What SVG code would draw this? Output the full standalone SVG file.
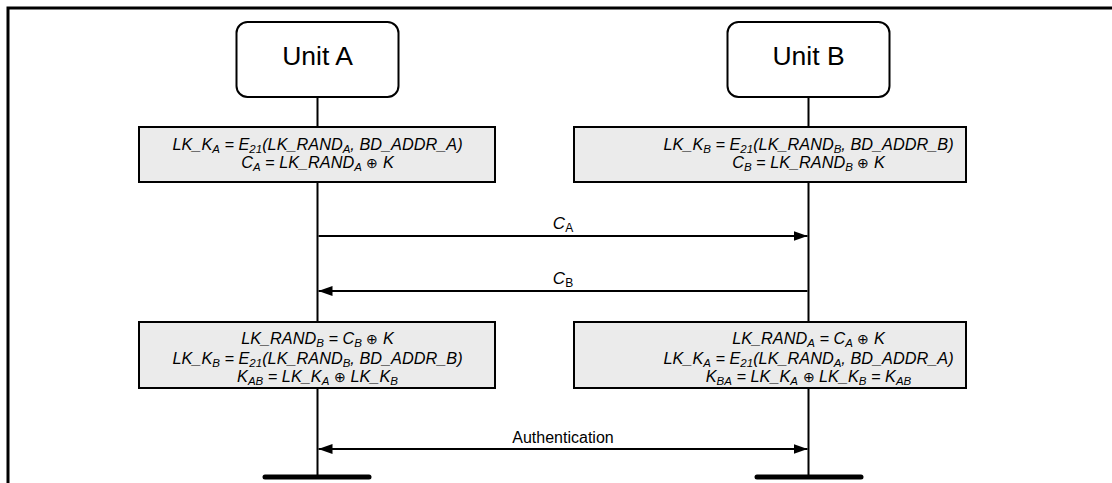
<svg xmlns="http://www.w3.org/2000/svg" width="1112" height="483" viewBox="0 0 1112 483">
<style>
.frame{fill:none;stroke:#000;stroke-width:3}
.unit{fill:#fff;stroke:#000;stroke-width:2}
.box{fill:#ebebeb;stroke:#000;stroke-width:2}
.life{stroke:#000;stroke-width:2;fill:none}
.msg{stroke:#000;stroke-width:2;fill:none}
.bar{stroke:#000;stroke-width:5;stroke-linecap:round}
.ut{font-family:"Liberation Sans",Arial,sans-serif;font-size:26.5px;text-anchor:middle;fill:#000}
.ft{font-family:"Liberation Sans",Arial,sans-serif;font-size:16.3px;font-style:italic;text-anchor:middle;fill:#000}
.s{font-size:11.5px}
.o{font-family:"DejaVu Sans",sans-serif;font-style:normal;font-weight:200;font-size:14px}
.lt{font-family:"Liberation Sans",Arial,sans-serif;font-size:16px;text-anchor:middle;fill:#000}
.ls{font-size:12px;font-style:normal}
</style>
<defs>
<marker id="ah" viewBox="0 0 14 10" refX="14" refY="5" markerWidth="14" markerHeight="10" markerUnits="userSpaceOnUse" orient="auto-start-reverse">
<path d="M0,0 L14,5 L0,10 Z" fill="#000"/>
</marker>
</defs>
<polyline class="frame" points="8,483 8,8 1112,8"/>
<g id="lifelines">
<line class="life" x1="317.5" y1="97" x2="317.5" y2="477"/>
<line class="life" x1="808.5" y1="97" x2="808.5" y2="477"/>
<line class="bar" x1="265" y1="477" x2="369" y2="477"/>
<line class="bar" x1="757" y1="477" x2="861" y2="477"/>
</g>
<g id="unitA">
<rect class="unit" x="236.5" y="22" width="162" height="75" rx="11"/>
<text class="ut" x="317.5" y="65">Unit A</text>
</g>
<g id="unitB">
<rect class="unit" x="727.5" y="22" width="162" height="75" rx="11"/>
<text class="ut" x="808.5" y="65">Unit B</text>
</g>
<g id="boxA1">
<rect class="box" x="139" y="127" width="356" height="55"/>
<text class="ft" x="317.5" y="150">LK_K<tspan class="s" dy="3">A</tspan><tspan dy="-3"> = E</tspan><tspan class="s" dy="3">21</tspan><tspan dy="-3">(LK_RAND</tspan><tspan class="s" dy="3">A</tspan><tspan dy="-3">, BD_ADDR_A)</tspan></text>
<text class="ft" x="317.5" y="168">C<tspan class="s" dy="3">A</tspan><tspan dy="-3"> = LK_RAND</tspan><tspan class="s" dy="3">A</tspan><tspan dy="-3"> </tspan><tspan class="o">⊕</tspan> K</text>
</g>
<g id="boxB1">
<rect class="box" x="574" y="127" width="392" height="55"/>
<text class="ft" x="808.5" y="150">LK_K<tspan class="s" dy="3">B</tspan><tspan dy="-3"> = E</tspan><tspan class="s" dy="3">21</tspan><tspan dy="-3">(LK_RAND</tspan><tspan class="s" dy="3">B</tspan><tspan dy="-3">, BD_ADDR_B)</tspan></text>
<text class="ft" x="808.5" y="168">C<tspan class="s" dy="3">B</tspan><tspan dy="-3"> = LK_RAND</tspan><tspan class="s" dy="3">B</tspan><tspan dy="-3"> </tspan><tspan class="o">⊕</tspan> K</text>
</g>
<g id="boxA2">
<rect class="box" x="139" y="322" width="356" height="66"/>
<text class="ft" x="317.5" y="344">LK_RAND<tspan class="s" dy="3">B</tspan><tspan dy="-3"> = C</tspan><tspan class="s" dy="3">B</tspan><tspan dy="-3"> </tspan><tspan class="o">⊕</tspan> K</text>
<text class="ft" x="317.5" y="364">LK_K<tspan class="s" dy="3">B</tspan><tspan dy="-3"> = E</tspan><tspan class="s" dy="3">21</tspan><tspan dy="-3">(LK_RAND</tspan><tspan class="s" dy="3">B</tspan><tspan dy="-3">, BD_ADDR_B)</tspan></text>
<text class="ft" x="317.5" y="382">K<tspan class="s" dy="3">AB</tspan><tspan dy="-3"> = LK_K</tspan><tspan class="s" dy="3">A</tspan><tspan dy="-3"> </tspan><tspan class="o">⊕</tspan> LK_K<tspan class="s" dy="3">B</tspan></text>
</g>
<g id="boxB2">
<rect class="box" x="574" y="322" width="392" height="66"/>
<text class="ft" x="808.5" y="344">LK_RAND<tspan class="s" dy="3">A</tspan><tspan dy="-3"> = C</tspan><tspan class="s" dy="3">A</tspan><tspan dy="-3"> </tspan><tspan class="o">⊕</tspan> K</text>
<text class="ft" x="808.5" y="364">LK_K<tspan class="s" dy="3">A</tspan><tspan dy="-3"> = E</tspan><tspan class="s" dy="3">21</tspan><tspan dy="-3">(LK_RAND</tspan><tspan class="s" dy="3">A</tspan><tspan dy="-3">, BD_ADDR_A)</tspan></text>
<text class="ft" x="808.5" y="382">K<tspan class="s" dy="3">BA</tspan><tspan dy="-3"> = LK_K</tspan><tspan class="s" dy="3">A</tspan><tspan dy="-3"> </tspan><tspan class="o">⊕</tspan> LK_K<tspan class="s" dy="3">B</tspan><tspan dy="-3"> = K</tspan><tspan class="s" dy="3">AB</tspan></text>
</g>
<g id="connectors">
<line class="msg" x1="318.5" y1="236" x2="807.5" y2="236" marker-end="url(#ah)"/>
<line class="msg" x1="318.5" y1="291" x2="807.5" y2="291" marker-start="url(#ah)"/>
<line class="msg" x1="318.5" y1="449" x2="807.5" y2="449" marker-start="url(#ah)" marker-end="url(#ah)"/>
<text class="lt" x="563" y="229"><tspan font-style="italic" font-size="17px">C</tspan><tspan class="ls" dy="3">A</tspan></text>
<text class="lt" x="563" y="284"><tspan font-style="italic" font-size="17px">C</tspan><tspan class="ls" dy="3">B</tspan></text>
<text class="lt" x="563" y="443">Authentication</text>
</g>
</svg>
